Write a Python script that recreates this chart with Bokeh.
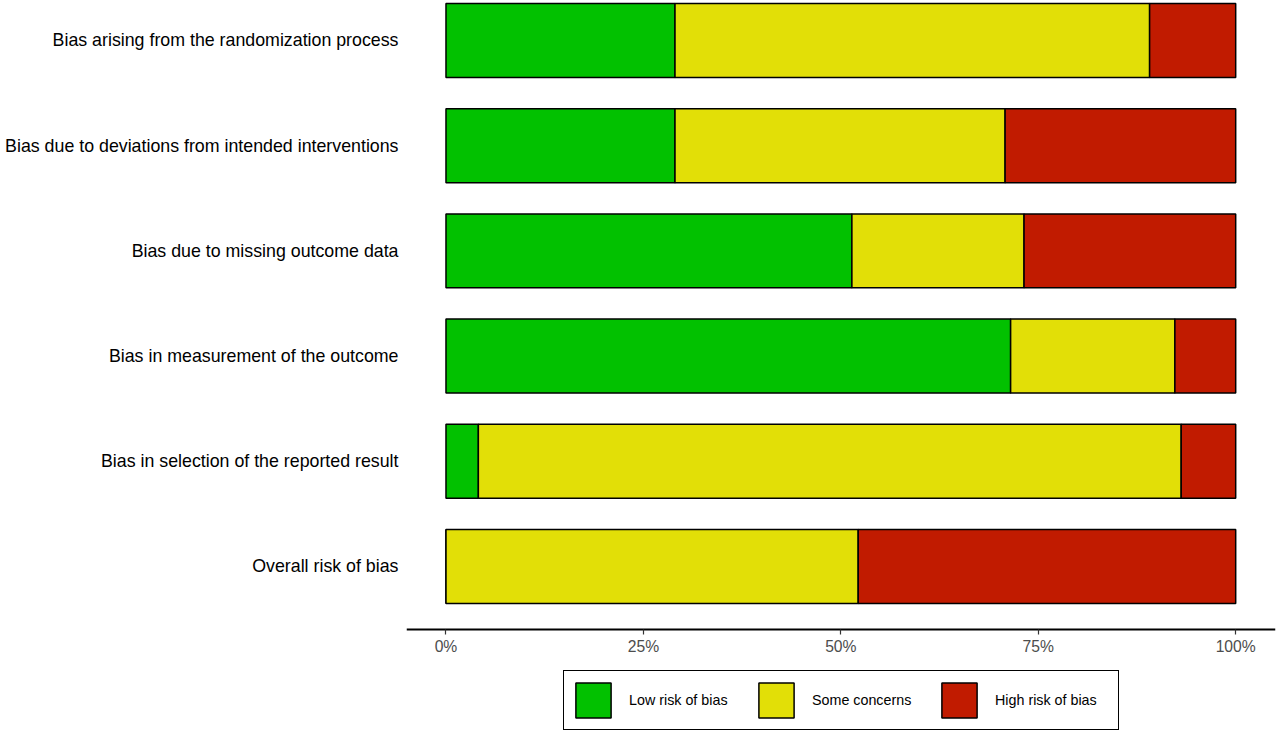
from bokeh.plotting import figure
from bokeh.models import Range1d, FixedTicker, Legend, LegendItem, ColumnDataSource, PrintfTickFormatter, LinearAxis
from bokeh.embed import file_html
from bokeh.resources import INLINE

domains = [
    "Bias arising from the randomization process",
    "Bias due to deviations from intended interventions",
    "Bias due to missing outcome data",
    "Bias in measurement of the outcome",
    "Bias in selection of the reported result",
    "Overall risk of bias",
]
low = [29.0, 29.0, 51.4, 71.5, 4.1, 0.0]
some = [60.1, 41.8, 21.8, 20.8, 89.0, 52.2]
high = [10.9, 29.2, 26.8, 7.7, 6.9, 47.8]
judgements = ["Low risk of bias", "Some concerns", "High risk of bias"]
colors = ["#02C100", "#E2DF07", "#C11B00"]
x_ticks = [0, 25, 50, 75, 100]

ypos = [len(domains) - i for i in range(len(domains))]
source = ColumnDataSource(dict(y=ypos, low=low, some=some, high=high))

FONT = "Liberation Sans"
AXIS_Y = 0.4  # where the percentage axis sits (bottom of the bar area)

p = figure(
    frame_width=869, frame_height=734,
    x_range=Range1d(-5, 105.04), y_range=Range1d(-0.597, 6.38),
    output_backend="svg", toolbar_location=None, x_axis_location=None,
    min_border_left=406, min_border_right=4, min_border_top=0, min_border_bottom=0,
)
p.outline_line_color = None
p.xgrid.visible = False
p.ygrid.visible = False
p.background_fill_color = "white"
p.border_fill_color = "white"

rs = p.hbar_stack(["low", "some", "high"], y="y", height=0.703, color=colors,
                  line_color="black", line_width=1.5, source=source)

# y axis
p.yaxis.ticker = FixedTicker(ticks=ypos)
p.yaxis.major_label_overrides = {y: d for y, d in zip(ypos, domains)}
p.yaxis.major_tick_out = 0
p.yaxis.major_tick_in = 0
p.yaxis.minor_tick_out = 0
p.yaxis.minor_tick_in = 0
p.yaxis.axis_line_color = None
p.yaxis.major_label_text_font = FONT
p.yaxis.major_label_text_font_size = "17.8px"
p.yaxis.major_label_text_color = "black"
p.yaxis.major_label_standoff = 8

# x axis, drawn at the bottom of the bar area
xaxis = LinearAxis(
    fixed_location=AXIS_Y,
    ticker=FixedTicker(ticks=x_ticks),
    formatter=PrintfTickFormatter(format="%d%%"),
    major_tick_out=5, major_tick_in=0, minor_tick_out=0, minor_tick_in=0,
    axis_line_color="black", axis_line_width=1.8,
    major_tick_line_color="#333333", major_tick_line_width=1.2,
    major_label_text_font=FONT, major_label_text_font_size="15.7px",
    major_label_text_color="#4D4D4D", major_label_standoff=3,
)
p.add_layout(xaxis, "below")

legend = Legend(
    items=[LegendItem(label=j, renderers=[r]) for j, r in zip(judgements, rs)],
    orientation="horizontal", location=(157, 4),
    glyph_width=44, glyph_height=44, label_standoff=14, label_width=116,
    spacing=9, padding=7, margin=0,
    border_line_color="black", border_line_width=1.5, border_line_alpha=1.0,
    background_fill_color="white", background_fill_alpha=1.0,
    label_text_font=FONT, label_text_font_size="14.3px", label_text_color="black",
)
p.add_layout(legend, "center")

open("out.html", "w").write(file_html(p, INLINE))
